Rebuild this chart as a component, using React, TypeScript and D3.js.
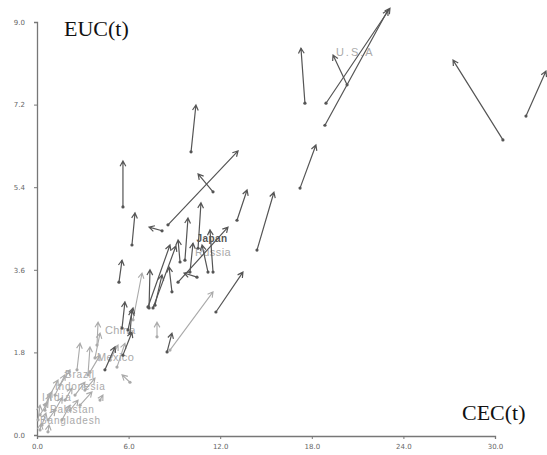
import React, { useEffect, useRef } from "react";
import * as d3 from "d3";

// Dark (foreground) arrows: start (x0,y0) -> end (x1,y1) in CEC/EUC units
const darkX0 = [18.93, 18.86, 20.31, 17.55, 10.09, 30.52, 32.03, 8.58, 17.23, 5.63, 6.22, 8.19, 5.37, 11.53, 13.10, 14.41, 10.55, 9.69, 11.53, 9.24, 9.37, 10.02, 11.20, 10.48, 7.27, 7.60, 7.34, 7.73, 8.84, 11.72, 8.52, 5.57, 6.09, 5.96, 4.45, 5.63];
const darkY0 = [7.23, 6.75, 7.63, 7.23, 6.17, 6.43, 6.95, 4.58, 5.38, 4.97, 4.14, 4.45, 3.33, 5.30, 4.68, 4.03, 4.07, 3.81, 3.55, 3.33, 3.77, 3.55, 3.55, 3.44, 2.79, 2.77, 2.77, 2.83, 3.12, 2.68, 1.81, 2.33, 2.22, 2.29, 1.42, 1.74];
const darkX1 = [23.12, 22.99, 19.39, 17.29, 10.41, 27.25, 33.34, 13.17, 18.27, 5.63, 6.42, 7.34, 5.57, 10.55, 13.76, 15.52, 10.74, 9.89, 11.33, 12.51, 9.24, 10.22, 10.81, 9.63, 8.71, 9.10, 7.40, 8.19, 8.65, 13.49, 8.84, 5.76, 6.22, 6.29, 5.11, 6.22];
const darkY1 = [9.30, 9.26, 8.28, 8.43, 7.19, 8.17, 7.93, 6.19, 6.32, 5.97, 4.84, 4.53, 3.81, 5.69, 5.34, 5.29, 5.06, 4.73, 4.47, 4.53, 4.25, 4.18, 4.14, 3.53, 4.14, 4.12, 3.60, 3.49, 3.66, 3.55, 2.22, 2.90, 2.72, 2.77, 1.92, 2.24];

// Light (background) arrows
const lightX0 = [6.29, 7.86, 8.71, 3.93, 2.62, 3.80, 3.34, 6.09, 5.24, 1.51, 0.85, 0.52, 0.20, 1.83, 1.18, 2.49, 0.33, 0.72, 3.14, 4.13, 0.20, 0.72, 2.16, 3.47, 4.78, 0.07, 1.18, 0.52, 1.64, 2.82];
const lightY0 = [2.51, 2.14, 1.85, 1.96, 1.42, 1.68, 1.31, 1.15, 1.48, 1.09, 0.87, 0.65, 0.44, 0.76, 0.54, 0.87, 0.22, 0.33, 0.98, 0.76, 0.11, 0.07, 0.54, 1.37, 1.63, 0.33, 0.87, 0.54, 0.33, 0.65];
const lightX1 = [6.88, 7.86, 11.53, 4.00, 2.82, 4.13, 3.47, 5.57, 5.76, 2.16, 1.38, 0.98, 0.72, 2.29, 1.64, 3.14, 0.59, 1.18, 3.80, 4.32, 0.26, 0.79, 2.69, 4.13, 5.31, 0.20, 1.83, 0.85, 2.16, 3.60];
const lightY1 = [3.53, 2.46, 3.12, 2.46, 2.00, 2.22, 1.92, 1.31, 2.00, 1.42, 1.20, 0.94, 0.72, 1.02, 0.81, 1.15, 0.48, 0.54, 1.24, 0.87, 0.24, 0.22, 0.76, 1.74, 1.96, 0.65, 1.31, 0.87, 0.65, 0.94];

// Country labels
const labelNames = ["U.S.A", "Japan", "Russia", "China", "Mexico", "Brazil", "Indonesia", "India", "Pakistan", "Bangladesh"];
const labelX = [19.58, 10.45, 10.35, 4.45, 3.93, 1.83, 1.18, 0.33, 0.85, 0.20];
const labelY = [8.26, 4.20, 3.90, 2.20, 1.61, 1.24, 0.99, 0.74, 0.49, 0.24];
const labelDark = [false, true, false, false, false, false, false, false, false, false];

const xTicks = [0, 6, 12, 18, 24, 30];
const yTicks = [0, 1.8, 3.6, 5.4, 7.2, 9.0];

export default function App() {
  const ref = useRef<SVGSVGElement | null>(null);

  useEffect(() => {
    const svg = d3.select(ref.current);
    svg.selectAll("*").remove();

    const x = d3.scaleLinear().domain([0, 30]).range([37, 495]);
    const y = d3.scaleLinear().domain([0, 9]).range([435, 22]);

    // axes
    const xAxis = svg.append("g").attr("transform", "translate(0,436)")
      .call(d3.axisBottom(x).tickValues(xTicks).tickFormat(d3.format(".1f")).tickSizeOuter(0).tickSize(3));
    const yAxis = svg.append("g").attr("transform", "translate(37,0)")
      .call(d3.axisLeft(y).tickValues(yTicks).tickFormat(d3.format(".1f")).tickSizeOuter(0).tickSize(3));
    [xAxis, yAxis].forEach((g) => {
      g.select(".domain").attr("stroke", "#777").attr("stroke-width", 1.3);
      g.selectAll(".tick line").attr("stroke", "#777");
      g.selectAll(".tick text").attr("fill", "#666").attr("font-size", 7)
        .attr("font-family", "DejaVu Sans, sans-serif");
    });
    yAxis.selectAll(".tick text").attr("x", -12);
    xAxis.selectAll(".tick text").attr("y", 8);

    // axis titles
    svg.append("text").attr("x", 64).attr("y", 36).text("EUC(t)")
      .attr("font-family", "Liberation Serif, Times New Roman, serif").attr("font-size", 22).attr("fill", "#111");
    svg.append("text").attr("x", 462).attr("y", 420).text("CEC(t)")
      .attr("font-family", "Liberation Serif, Times New Roman, serif").attr("font-size", 22).attr("fill", "#111");

    // labels
    const lab = svg.append("g");
    labelNames.forEach((n, i) => {
      const small = i >= 5;
      lab.append("text").attr("x", x(labelX[i])).attr("y", y(labelY[i])).text(n)
        .attr("font-family", "Liberation Sans, Arial, sans-serif")
        .attr("font-size", n === "U.S.A" ? 11 : n === "Japan" ? 10 : small ? 10 : 11)
        .attr("letter-spacing", n === "U.S.A" ? 2 : n === "India" ? 1.8 : small ? 0.8 : 0.4)
        .attr("font-weight", n === "Japan" ? "bold" : "normal")
        .attr("fill", labelDark[i] ? "#555" : "#aaa");
    });

    const drawArrows = (X0: number[], Y0: number[], X1: number[], Y1: number[], color: string, w: number) => {
      const g = svg.append("g").attr("stroke", color).attr("fill", "none").attr("stroke-width", w);
      X0.forEach((_, i) => {
        const tx = x(X0[i]), ty = y(Y0[i]), hx = x(X1[i]), hy = y(Y1[i]);
        const a = Math.atan2(hy - ty, hx - tx);
        const L = 6, s = 0.5;
        const p = d3.path();
        p.moveTo(tx, ty); p.lineTo(hx, hy);
        p.moveTo(hx - L * Math.cos(a - s), hy - L * Math.sin(a - s));
        p.lineTo(hx, hy);
        p.lineTo(hx - L * Math.cos(a + s), hy - L * Math.sin(a + s));
        g.append("path").attr("d", p.toString());
        svg.append("circle").attr("cx", tx).attr("cy", ty).attr("r", 1.6).attr("fill", color);
      });
    };
    drawArrows(lightX0, lightY0, lightX1, lightY1, "#aaa", 1.1);
    drawArrows(darkX0, darkY0, darkX1, darkY1, "#555", 1.2);
  }, []);

  return (
    <svg ref={ref} width={547} height={455}
      style={{ position: "absolute", left: 0, top: 0, background: "#fff" }} />
  );
}
